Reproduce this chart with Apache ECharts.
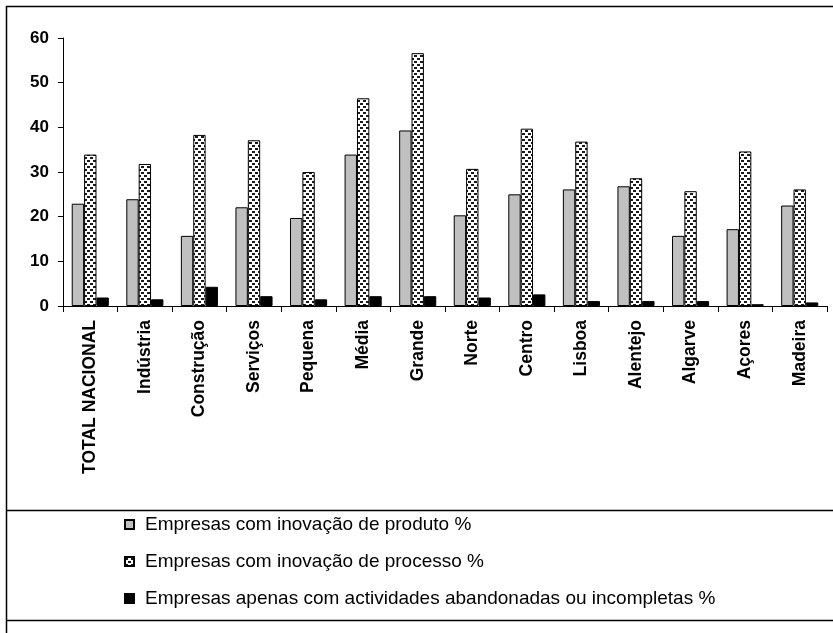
<!DOCTYPE html>
<html>
<head>
<meta charset="utf-8">
<script src="https://cdn.jsdelivr.net/npm/echarts@6/dist/echarts.min.js"></script>
<style>
  html, body { margin: 0; padding: 0; background: #fff; }
  #chart { width: 833px; height: 633px; }
</style>
</head>
<body>
<div id="chart"></div>
<script>
// Inovação nas empresas, por sector, dimensão e região (%)
const categories = ['TOTAL NACIONAL', 'Indústria', 'Construção', 'Serviços', 'Pequena', 'Média', 'Grande',
  'Norte', 'Centro', 'Lisboa', 'Alentejo', 'Algarve', 'Açores', 'Madeira'];
const produto = [22.9, 23.9, 15.7, 22.1, 19.7, 33.9, 39.3, 20.3, 25.0, 26.1, 26.8, 15.7, 17.2, 22.5];
const processo = [33.9, 31.8, 38.3, 37.1, 30.0, 46.5, 56.6, 30.7, 39.7, 36.8, 28.6, 25.7, 34.6, 26.1];
const abandonadas = [1.9, 1.5, 4.3, 2.2, 1.5, 2.2, 2.2, 1.9, 2.6, 1.1, 1.1, 1.1, 0.4, 0.8];
const seriesNames = [
  'Empresas com inovação de produto %',
  'Empresas com inovação de processo %',
  'Empresas apenas com actividades abandonadas ou incompletas %'
];
const yTicks = { min: 0, max: 60, interval: 10 };

const FONT = '"Liberation Sans", Arial, sans-serif';

// Confetti-style fill for the process bars
function confetti() {
  const c = document.createElement('canvas');
  c.width = 6; c.height = 6;
  const g = c.getContext('2d');
  g.fillStyle = '#ffffff';
  g.fillRect(0, 0, 6, 6);
  g.fillStyle = '#1a1a1a';
  g.fillRect(0, 1, 3, 2);
  g.fillRect(3, 4, 3, 2);
  return c;
}

const chart = echarts.init(document.getElementById('chart'), null, { renderer: 'canvas' });

const frame = { stroke: '#000', lineWidth: 1.5 };

chart.setOption({
  animation: false,
  backgroundColor: '#ffffff',
  textStyle: { fontFamily: FONT, color: '#000' },
  grid: { left: 63, right: 6, top: 38, bottom: 327, containLabel: false },
  legend: {
    orient: 'vertical',
    left: 124,
    top: 515,
    padding: 0,
    itemWidth: 9,
    itemHeight: 9,
    itemGap: 18,
    icon: 'rect',
    selectedMode: false,
    textStyle: { fontFamily: FONT, fontSize: 19, color: '#000', padding: [0, 0, 0, 6] },
    data: seriesNames
  },
  xAxis: {
    type: 'category',
    data: categories,
    axisLine: { lineStyle: { color: '#000', width: 1 } },
    axisTick: { show: true, length: 6, alignWithLabel: false, lineStyle: { color: '#000' } },
    axisLabel: {
      interval: 0,
      rotate: 90,
      margin: 14,
      fontFamily: FONT,
      fontSize: 17.5,
      fontWeight: 'bold',
      color: '#000'
    }
  },
  yAxis: {
    type: 'value',
    min: yTicks.min,
    max: yTicks.max,
    interval: yTicks.interval,
    splitLine: { show: false },
    axisLine: { show: true, lineStyle: { color: '#000', width: 1 } },
    axisTick: { show: true, length: 5, lineStyle: { color: '#000' } },
    axisLabel: { margin: 14, fontFamily: FONT, fontSize: 17, fontWeight: 'bold', color: '#000' }
  },
  series: [
    {
      name: seriesNames[0],
      type: 'bar',
      data: produto,
      barGap: '0%',
      barCategoryGap: '32%',
      itemStyle: { color: '#c0c0c0', borderColor: '#000', borderWidth: 1 }
    },
    {
      name: seriesNames[1],
      type: 'bar',
      data: processo,
      barGap: '0%',
      barCategoryGap: '32%',
      itemStyle: { color: { image: confetti(), repeat: 'repeat' }, borderColor: '#000', borderWidth: 1 }
    },
    {
      name: seriesNames[2],
      type: 'bar',
      data: abandonadas,
      barGap: '0%',
      barCategoryGap: '32%',
      itemStyle: { color: '#000', borderColor: '#000', borderWidth: 1 }
    }
  ],
  graphic: [
    { type: 'line', silent: true, shape: { x1: 6.5, y1: 6, x2: 6.5, y2: 633 }, style: frame },
    { type: 'line', silent: true, shape: { x1: 6, y1: 6.5, x2: 833, y2: 6.5 }, style: frame },
    { type: 'line', silent: true, shape: { x1: 6, y1: 510.5, x2: 833, y2: 510.5 }, style: frame },
    { type: 'line', silent: true, shape: { x1: 6, y1: 620.5, x2: 833, y2: 620.5 }, style: frame }
  ]
});
</script>
</body>
</html>
